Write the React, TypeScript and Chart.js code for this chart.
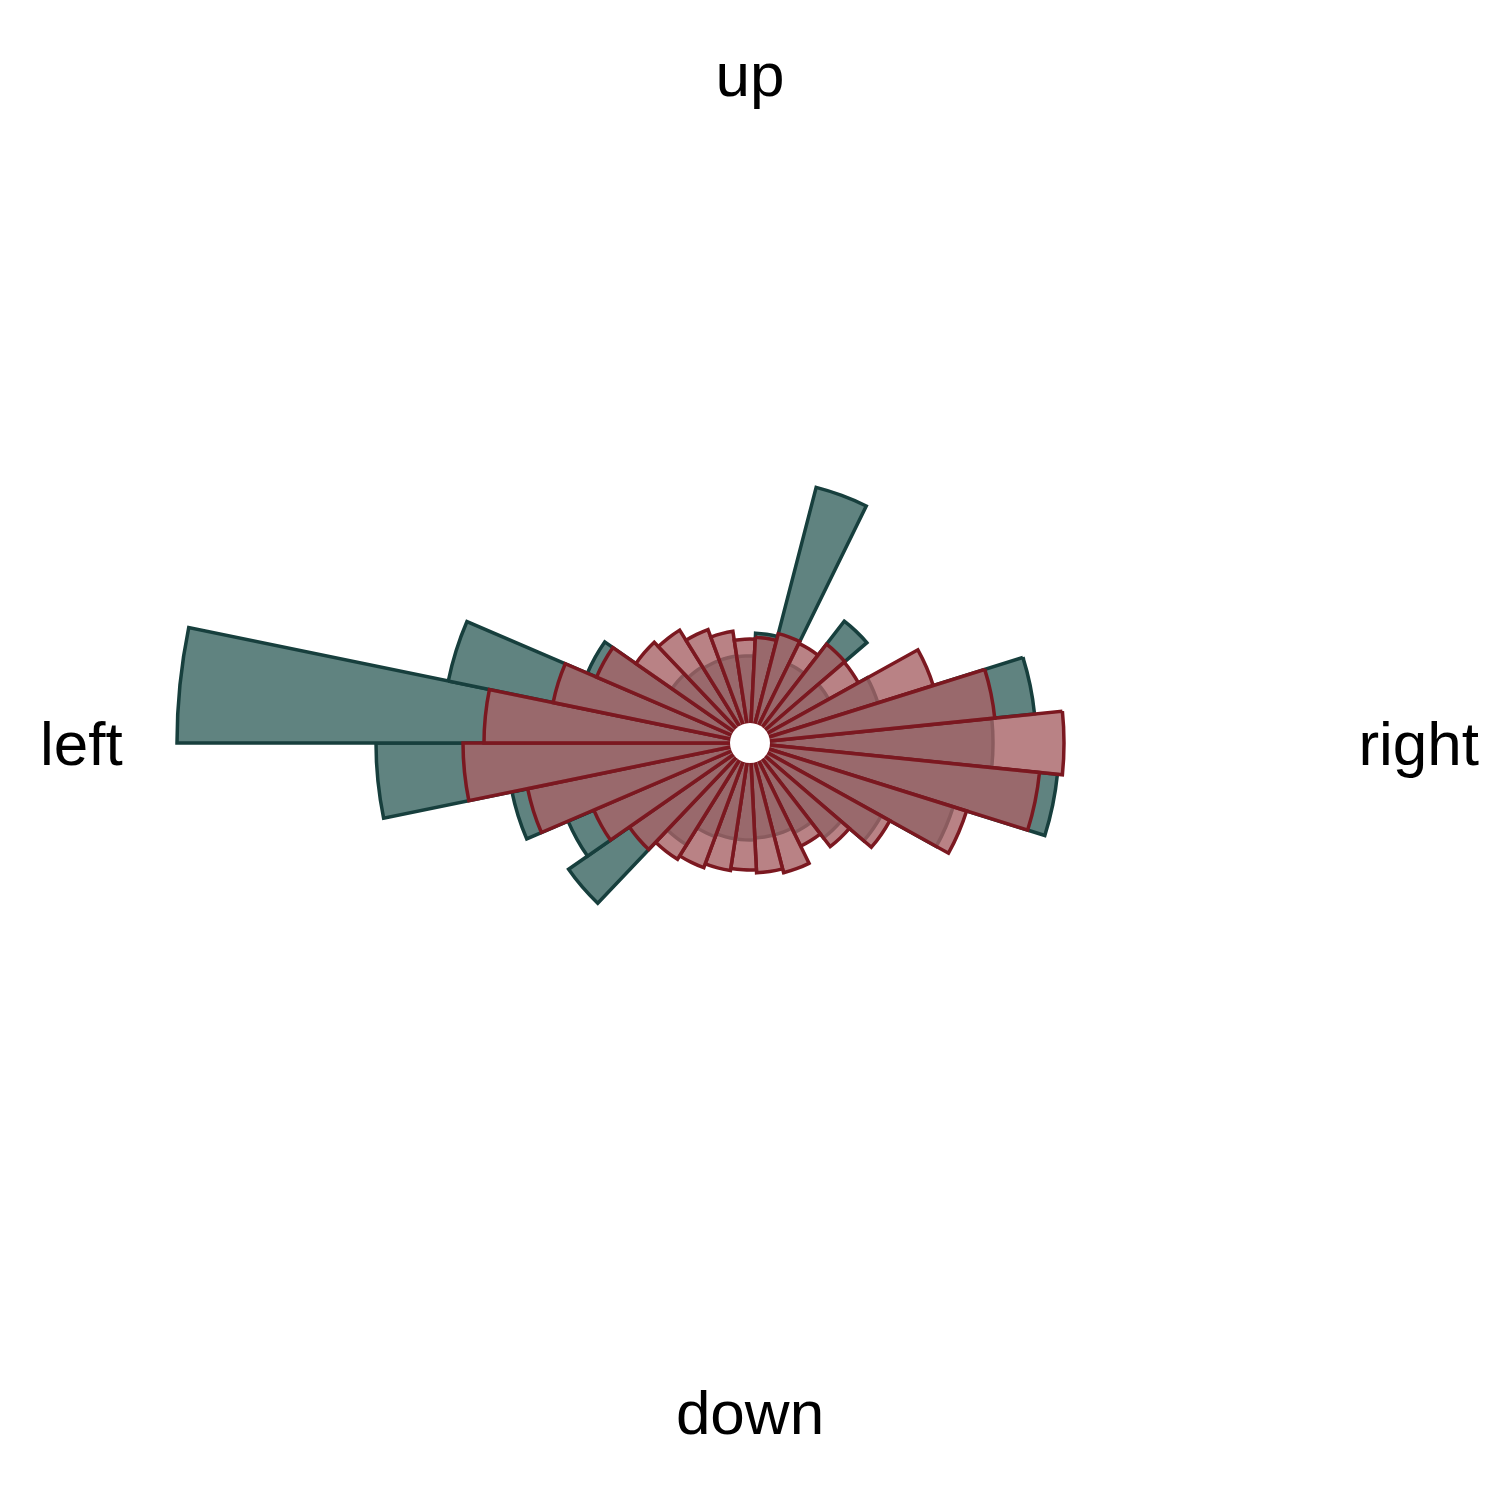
import React, { useEffect, useRef } from "react";
import { Chart, registerables } from "chart.js";

Chart.register(...registerables);

// Bin centres (degrees, clockwise from "right", as drawn); 31 equal bins
const binLabels = [
  "0", "12", "23", "35", "46", "58", "70", "81", "93", "105", "116",
  "128", "139", "151", "163", "174", "186", "197", "209", "221", "232",
  "244", "256", "267", "279", "290", "302", "314", "325", "337", "348",
];

// Series values per bin (same order as binLabels)
const tealValues = [
  44.6, 57.8, 38.6, 26.0, 20.0, 16.0, 15.0, 15.0, 15.4, 15.4, 16.0,
  20.0, 40.2, 35.6, 44.6, 70.8, 110.6, 57.6, 31.4, 15.0, 14.0,
  13.6, 13.6, 13.4, 18.0, 48.8, 13.6, 26.8, 14.0, 22.8, 53.2,
];

const redValues = [
  58.8, 54.2, 41.4, 28.0, 22.2, 19.0, 22.8, 22.0, 21.4, 21.8, 22.6,
  23.4, 25.4, 30.0, 41.4, 53.4, 49.2, 36.2, 29.4, 23.8, 22.6,
  20.2, 18.6, 16.8, 17.2, 18.6, 18.2, 21.0, 20.8, 34.4, 45.2,
];

// Direction labels, clockwise starting at the top
const directionLabels = ["up", "right", "down", "left"];

const scaleMin = -4;
const scaleMax = 144.6;

const overlayPlugin = {
  id: "roseOverlay",
  afterDatasetsDraw(chart: any) {
    const r = chart.scales.r;
    const ctx = chart.ctx;
    const hole = r.getDistanceFromCenterForValue(0);
    ctx.save();
    ctx.beginPath();
    ctx.arc(r.xCenter, r.yCenter, hole, 0, Math.PI * 2);
    ctx.fillStyle = "#ffffff";
    ctx.fill();
    ctx.font = '62px "Liberation Sans", Arial, Helvetica, sans-serif';
    ctx.fillStyle = "#000000";
    ctx.textAlign = "center";
    ctx.textBaseline = "middle";
    const dist = r.drawingArea * 0.9;
    directionLabels.forEach((t, i) => {
      const a = -Math.PI / 2 + (i * Math.PI) / 2;
      ctx.fillText(t, r.xCenter + dist * Math.cos(a), r.yCenter + dist * Math.sin(a) + 5);
    });
    ctx.restore();
  },
};

export default function App() {
  const canvasRef = useRef<HTMLCanvasElement | null>(null);

  useEffect(() => {
    if (!canvasRef.current) return;
    const chart = new Chart(canvasRef.current, {
      type: "polarArea",
      data: {
        labels: binLabels,
        datasets: [
          {
            label: "teal",
            data: tealValues,
            backgroundColor: "#608380",
            borderColor: "#173f3d",
            borderWidth: 3.5,
            borderJoinStyle: "miter",
            borderAlign: "center",
            order: 2,
          } as any,
          {
            label: "red",
            data: redValues,
            backgroundColor: "rgba(168, 99, 102, 0.8)",
            borderColor: "#7b1820",
            borderWidth: 3.5,
            borderJoinStyle: "miter",
            borderAlign: "center",
            order: 1,
          } as any,
        ],
      },
      options: {
        responsive: false,
        animation: false,
        devicePixelRatio: 1,
        events: [],
        layout: { padding: { top: 0, bottom: 14, left: 0, right: 0 } },
        plugins: {
          legend: { display: false },
          tooltip: { enabled: false },
        },
        scales: {
          r: {
            min: scaleMin,
            max: scaleMax,
            startAngle: 90 - 180 / binLabels.length,
            ticks: { display: false },
            grid: { display: false },
            angleLines: { display: false },
            pointLabels: { display: false },
          },
        },
      } as any,
      plugins: [overlayPlugin],
    });
    return () => chart.destroy();
  }, []);

  return (
    <div style={{ position: "absolute", left: 0, top: 0, width: 1500, height: 1500, background: "#fff" }}>
      <canvas ref={canvasRef} width={1500} height={1500} style={{ display: "block" }} />
    </div>
  );
}
